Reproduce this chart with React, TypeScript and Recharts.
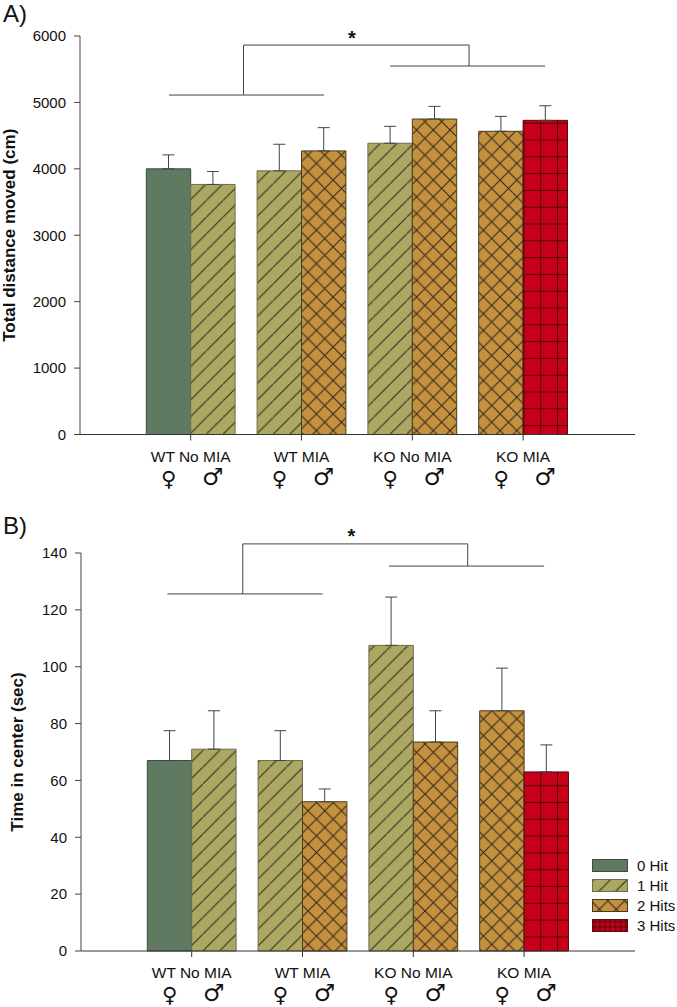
import React from "react";
import { BarChart, Bar, Cell, XAxis, YAxis, ErrorBar, ReferenceLine, ReferenceDot, Legend } from "recharts";

const groups = ["WT No MIA", "WT MIA", "KO No MIA", "KO MIA"];
const femaleHits = [0, 1, 1, 2];
const maleHits = [1, 2, 2, 3];
const hitLabels = ["0 Hit", "1 Hit", "2 Hits", "3 Hits"];
const distanceFemale = [4000, 3970, 4385, 4565];
const distanceFemaleErr = [210, 400, 255, 225];
const distanceMale = [3765, 4270, 4750, 4730];
const distanceMaleErr = [195, 350, 190, 220];
const centerFemale = [67, 67, 107.5, 84.5];
const centerFemaleErr = [10.5, 10.5, 17, 15];
const centerMale = [71, 52.5, 73.5, 63];
const centerMaleErr = [13.5, 4.5, 11, 9.5];
const distanceTicks = [0, 1000, 2000, 3000, 4000, 5000, 6000];
const centerTicks = [0, 20, 40, 60, 80, 100, 120, 140];

// brackets, x on the hidden annotation axis (0..3 across the plot)
const distanceBracket = { top: 5864, leftY: 5111, rightY: 5548, leftX: 0.884, rightX: 2.103, l0: 0.481, l1: 1.319, r0: 1.676, r1: 2.514, star: 1.47, starY: 5965 };
const centerBracket = { top: 143.2, leftY: 125.6, rightY: 135.4, leftX: 0.876, rightX: 2.094, l0: 0.468, l1: 1.308, r0: 1.668, r1: 2.508, star: 1.464, starY: 146.1 };

const colors = ["#5f7a60", "#aca763", "#c4913f", "#c60018"];
const strokes = ["#3f4a3f", "#6e6c50", "#4a3a1c", "#5a0a10"];
const S = 16.7;
const G = 16.8;
const INK = "#2f2a18";
const GRID = "#4a0a0c";
const FONT = "'Liberation Sans', Arial, sans-serif";

const table = (f: number[], fe: number[], m: number[], me: number[]) =>
  groups.map((g, i) => ({ group: g, female: f[i], femaleErr: [0, fe[i]], male: m[i], maleErr: [0, me[i]] }));
const distanceData = table(distanceFemale, distanceFemaleErr, distanceMale, distanceMaleErr);
const centerData = table(centerFemale, centerFemaleErr, centerMale, centerMaleErr);

function PatternSet({ id, hatch, cross, grid }: { id: string; hatch: number; cross: number[]; grid: number[] }) {
  return (
    <>
      <pattern id={`${id}1`} patternUnits="userSpaceOnUse" width={S} height={S} x={hatch} y={0}>
        <rect width={S} height={S} fill={colors[1]} />
        <line x1={-1} y1={S + 1} x2={S + 1} y2={-1} stroke={INK} strokeWidth={1} />
      </pattern>
      <pattern id={`${id}2`} patternUnits="userSpaceOnUse" width={S} height={S} x={cross[0]} y={cross[1]}>
        <rect width={S} height={S} fill={colors[2]} />
        <line x1={-1} y1={S + 1} x2={S + 1} y2={-1} stroke={INK} strokeWidth={1} />
        <line x1={-1} y1={-1} x2={S + 1} y2={S + 1} stroke={INK} strokeWidth={1} />
      </pattern>
      <pattern id={`${id}3`} patternUnits="userSpaceOnUse" width={G} height={G} x={grid[0] - G / 2} y={grid[1] - G / 2}>
        <rect width={G} height={G} fill={colors[3]} />
        <line x1={G / 2} y1={0} x2={G / 2} y2={G} stroke={GRID} strokeWidth={1} />
        <line x1={0} y1={G / 2} x2={G} y2={G / 2} stroke={GRID} strokeWidth={1} />
      </pattern>
    </>
  );
}

function Patterns() {
  return (
    <svg width={0} height={0} style={{ position: "absolute" }}>
      <defs>
        <PatternSet id="a" hatch={6} cross={[15.8, 13.1]} grid={[3.1, 5.6]} />
        <PatternSet id="b" hatch={2.5} cross={[7.5, 10.2]} grid={[3.1, 0.1]} />
        <pattern id="leg3" patternUnits="userSpaceOnUse" width={5.2} height={5.2}>
          <rect width={5.2} height={5.2} fill={colors[3]} />
          <line x1={2.6} y1={0} x2={2.6} y2={5.2} stroke={GRID} strokeWidth={1} />
          <line x1={0} y1={2.6} x2={5.2} y2={2.6} stroke={GRID} strokeWidth={1} />
        </pattern>
      </defs>
    </svg>
  );
}

const fillFor = (id: string, hit: number) => (hit === 0 ? colors[0] : `url(#${id}${hit})`);

function GroupTick(props: any) {
  const { x, y, payload } = props;
  return (
    <g>
      <text x={x} y={y + 19} textAnchor="middle" fontFamily={FONT} fontSize={15.5} fill="#111">{payload.value}</text>
      <text x={x - 22} y={y + 43} textAnchor="middle" fontFamily="'DejaVu Sans'" fontSize={21} fill="#111">♀</text>
      <text x={x + 22} y={y + 42} textAnchor="middle" fontFamily="'DejaVu Sans'" fontSize={24} fill="#111">♂</text>
    </g>
  );
}

function LegendBox() {
  const tops = [0, 20, 40, 59.5];
  return (
    <div style={{ position: "relative", width: 85, height: 74 }}>
      {hitLabels.map((label, i) => (
        <React.Fragment key={label}>
          <svg width={36} height={13} style={{ position: "absolute", left: 0, top: tops[i] }}>
            <rect x={0.5} y={0.5} width={35} height={12} fill={i === 3 ? "url(#leg3)" : fillFor("b", i)} stroke={strokes[i]} />
          </svg>
          <span style={{ position: "absolute", left: 45, top: tops[i] - 2, fontFamily: FONT, fontSize: 15, lineHeight: "17px", color: "#111", whiteSpace: "nowrap" }}>{label}</span>
        </React.Fragment>
      ))}
    </div>
  );
}

function Panel(props: {
  id: string; data: any[]; width: number; height: number; margin: any; domainMax: number; ticks: number[]; title: string;
  b: typeof distanceBracket; titleDx: number; legend?: boolean;
}) {
  const { id, data, width, height, margin, domainMax, ticks, title, b, titleDx, legend } = props;
  const line = "#444";
  const seg = (x0: number, y0: number, x1: number, y1: number, key: string) => (
    <ReferenceLine key={key} xAxisId="ann" ifOverflow="visible" stroke={line} strokeWidth={1}
      segment={[{ x: x0, y: y0 }, { x: x1, y: y1 }]} />
  );
  return (
    <BarChart width={width} height={height} data={data} margin={margin} barGap={0} barSize={44.4}>
      <XAxis dataKey="group" interval={0} tick={GroupTick} tickSize={6} stroke={line} axisLine={{ stroke: "#333" }} tickLine={{ stroke: "#333" }}
        padding={margin.pad} height={margin.axisH} />
      <XAxis xAxisId="ann" type="number" domain={[0, 3]} hide allowDataOverflow />
      <YAxis domain={[0, domainMax]} ticks={ticks} interval={0} tickSize={6} tickMargin={8} width={margin.axisW} stroke={line}
        tick={{ fontFamily: FONT, fontSize: 15, fill: "#111" }}
        label={{ value: title, angle: -90, position: "insideLeft", dx: titleDx, dy: 0, style: { textAnchor: "middle", fontFamily: FONT, fontSize: 17, fontWeight: 700, fill: "#111" } } as any} />
      <Bar dataKey="female" isAnimationActive={false} stroke="#4b4b3c" strokeWidth={1}>
        {femaleHits.map((h, i) => <Cell key={i} fill={fillFor(id, h)} stroke={strokes[h]} />)}
        <ErrorBar dataKey="femaleErr" direction="y" width={6} stroke={line} strokeWidth={1} isAnimationActive={false} />
      </Bar>
      <Bar dataKey="male" isAnimationActive={false} stroke="#4b4b3c" strokeWidth={1}>
        {maleHits.map((h, i) => <Cell key={i} fill={fillFor(id, h)} stroke={strokes[h]} />)}
        <ErrorBar dataKey="maleErr" direction="y" width={6} stroke={line} strokeWidth={1} isAnimationActive={false} />
      </Bar>
      {seg(b.leftX, b.top, b.rightX, b.top, "t")}
      {seg(b.leftX, b.top, b.leftX, b.leftY, "lv")}
      {seg(b.rightX, b.top, b.rightX, b.rightY, "rv")}
      {seg(b.l0, b.leftY, b.l1, b.leftY, "lh")}
      {seg(b.r0, b.rightY, b.r1, b.rightY, "rh")}
      <ReferenceDot xAxisId="ann" x={b.star} y={b.starY} r={0} ifOverflow="visible" stroke="none" fill="none"
        label={{ value: "*", position: "center", style: { fontFamily: FONT, fontSize: 20, fontWeight: 700, fill: "#111" } } as any} />
      {legend ? (
        <Legend layout="horizontal" verticalAlign="middle" align="center" content={() => <LegendBox />}
          wrapperStyle={{ position: "absolute", left: 592, top: 359, width: 85, height: 74 }} />
      ) : null}
    </BarChart>
  );
}

export default function App() {
  return (
    <div style={{ position: "absolute", left: 0, top: 0, width: 677, height: 1007, background: "#fff", overflow: "hidden" }}>
      <Patterns />
      <div style={{ position: "absolute", left: 3, top: 2, fontFamily: FONT, fontSize: 24, lineHeight: "24px", color: "#111" }}>A)</div>
      <div style={{ position: "absolute", left: 3, top: 514, fontFamily: FONT, fontSize: 24, lineHeight: "24px", color: "#111" }}>B)</div>
      <div style={{ position: "absolute", left: 0, top: 0 }}>
        <Panel id="a" data={distanceData} width={677} height={500}
          margin={{ top: 36, right: 42, bottom: 0, left: 0, axisH: 65.5, axisW: 80, pad: { left: 55.3, right: 56.5 } }}
          domainMax={6000} ticks={distanceTicks} title="Total distance moved (cm)" b={distanceBracket} titleDx={4} />
      </div>
      <div style={{ position: "absolute", left: 0, top: 500 }}>
        <Panel id="b" data={centerData} width={677} height={507}
          margin={{ top: 53, right: 42, bottom: 0, left: 1, axisH: 56, axisW: 80, pad: { left: 55.3, right: 55.5 } }}
          domainMax={140} ticks={centerTicks} title="Time in center (sec)" b={centerBracket} titleDx={11} legend />
      </div>
    </div>
  );
}
